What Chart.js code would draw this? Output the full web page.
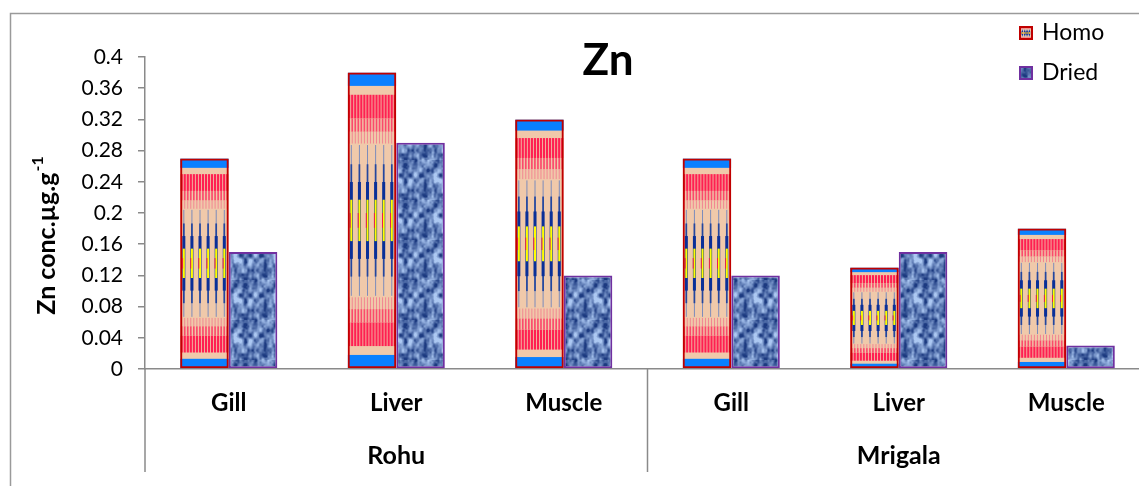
<!DOCTYPE html>
<html>
<head>
<meta charset="utf-8">
<script src="https://cdn.jsdelivr.net/npm/chart.js@4.4.1/dist/chart.umd.min.js"></script>
<style>
  html, body { margin: 0; padding: 0; background: #fff; overflow: hidden; }
  #wrap { position: absolute; left: 0; top: 0; width: 1160px; height: 486px; }
</style>
</head>
<body>
<div id="wrap"><canvas id="c" width="1160" height="486"></canvas></div>
<script>
// ---- data ----
const organs = ['Gill', 'Liver', 'Muscle', 'Gill', 'Liver', 'Muscle'];
const fishGroups = ['Rohu', 'Mrigala'];
const seriesNames = ['Homo', 'Dried'];
const homoValues = [0.27, 0.38, 0.32, 0.27, 0.13, 0.18];
const driedValues = [0.15, 0.29, 0.12, 0.12, 0.15, 0.03];
const yTickValues = [0, 0.04, 0.08, 0.12, 0.16, 0.2, 0.24, 0.28, 0.32, 0.36, 0.4];
const yTickLabels = ['0', '0.04', '0.08', '0.12', '0.16', '0.2', '0.24', '0.28', '0.32', '0.36', '0.4'];
const chartTitle = 'Zn';
const yTitleMain = 'Zn conc.µg.g';
const yTitleSup = '-1';

// ---- styling ----
const AXIS = '#8a8a8a';
const FONT = 'Lato';
const BLUE = '#0a80ff';
const BEIGE = '#f0c9aa';
const RED = '#ff1f52';

// Stretched "woven band" fill used for the Homo bars
function paintHomo(ctx, x, y, w, h) {
  ctx.save();
  ctx.beginPath();
  ctx.rect(x, y, w, h);
  ctx.clip();
  ctx.fillStyle = BEIGE;
  ctx.fillRect(x, y, w, h);
  const band = (f0, f1, fn) => {
    fn(y + f0 * h, (f1 - f0) * h);
    fn(y + (1 - f1) * h, (f1 - f0) * h);
  };
  band(0, 0.045, (yy, hh) => { ctx.fillStyle = BLUE; ctx.fillRect(x, yy, w, hh); });
  const n = 16;
  const sw = w / n;
  const levels = [
    [0.075, 0.155, 0.72, RED],
    [0.155, 0.20, 0.55, '#fb4a6c'],
    [0.20, 0.24, 0.3, '#f3808f']
  ];
  levels.forEach(([f0, f1, fill, col]) => {
    band(f0, f1, (yy, hh) => {
      ctx.fillStyle = col;
      for (let i = 0; i < n; i++) ctx.fillRect(x + i * sw + sw * (1 - fill) / 2, yy, sw * fill, hh);
    });
  });
  // spindle columns
  const cols = 6;
  for (let i = 0; i < cols; i++) {
    const cx = x + w * (i + 0.45) / cols;
    const seg = (f0, f1, wd, col) => {
      ctx.fillStyle = col;
      ctx.fillRect(cx - wd / 2, y + f0 * h, wd, (f1 - f0) * h);
    };
    seg(0.245, 0.755, Math.max(1, w * 0.02), '#7c8cbc');
    seg(0.31, 0.69, Math.max(1, w * 0.035), '#23469e');
    seg(0.37, 0.63, Math.max(1.5, w * 0.062), '#0a2f98');
    seg(0.43, 0.57, Math.max(1, w * 0.042), '#ffff00');
    ctx.fillStyle = '#e8204c';
    ctx.fillRect(cx - w * 0.035, y + 0.475 * h, Math.max(1, w * 0.018), 0.05 * h);
  }
  ctx.restore();
}

// Mottled blue texture used for the Dried bars
function makeDriedPattern() {
  const S = 40;
  const tile = document.createElement('canvas');
  tile.width = S; tile.height = S;
  const tctx = tile.getContext('2d');
  const img = tctx.createImageData(S, S);
  const hash = (i, j) => {
    const v = Math.sin(i * 127.1 + j * 311.7) * 43758.5453;
    return v - Math.floor(v);
  };
  const noise = (px, py, cells) => {
    const cs = S / cells;
    const gx = px / cs, gy = py / cs;
    const x0 = Math.floor(gx), y0 = Math.floor(gy);
    const tx = gx - x0, ty = gy - y0;
    const g = (a, b) => hash(((a % cells) + cells) % cells, ((b % cells) + cells) % cells + cells * 7);
    const sx = tx * tx * (3 - 2 * tx), sy = ty * ty * (3 - 2 * ty);
    const a = g(x0, y0) * (1 - sx) + g(x0 + 1, y0) * sx;
    const b = g(x0, y0 + 1) * (1 - sx) + g(x0 + 1, y0 + 1) * sx;
    return a * (1 - sy) + b * sy;
  };
  const dark = [28, 58, 128], light = [172, 200, 242];
  for (let py = 0; py < S; py++) {
    for (let px = 0; px < S; px++) {
      let v = 0.5 * noise(px, py, 8) + 0.35 * noise(px, py * 0.5, 16) + 0.15 * noise(px, py, 20);
      v = Math.min(1, Math.max(0, (v - 0.5) * 2.0 + 0.5));
      const k = (py * S + px) * 4;
      img.data[k] = dark[0] + (light[0] - dark[0]) * v;
      img.data[k + 1] = dark[1] + (light[1] - dark[1]) * v;
      img.data[k + 2] = dark[2] + (light[2] - dark[2]) * v;
      img.data[k + 3] = 255;
    }
  }
  tctx.putImageData(img, 0, 0);
  return tctx.createPattern(tile, 'repeat');
}

const driedPattern = makeDriedPattern();

const decor = {
  id: 'decor',
  beforeDraw(chart) {
    const ctx = chart.ctx;
    ctx.save();
    ctx.strokeStyle = '#9a9a9a';
    ctx.lineWidth = 1.5;
    ctx.strokeRect(10.5, 13.5, 1400, 600);
    ctx.restore();
  },
  beforeDatasetDraw(chart, args) {
    if (args.index !== 0) return;
    const ctx = chart.ctx;
    chart.getDatasetMeta(0).data.forEach(bar => {
      const p = bar.getProps(['x', 'y', 'base', 'width'], true);
      paintHomo(ctx, p.x - p.width / 2, Math.min(p.y, p.base), p.width, Math.abs(p.base - p.y));
    });
  },
  afterDraw(chart) {
    const ctx = chart.ctx;
    const xs = chart.scales.x, xg = chart.scales.xg;
    ctx.save();
    // group separators below the category axis
    ctx.strokeStyle = AXIS;
    ctx.lineWidth = 1.5;
    const bottom = xg.bottom - 14;
    const splits = [chart.chartArea.left, (xs.getPixelForValue(2) + xs.getPixelForValue(3)) / 2];
    splits.forEach(sx => {
      ctx.beginPath();
      ctx.moveTo(sx, xs.top);
      ctx.lineTo(sx, bottom);
      ctx.stroke();
    });
    // y-axis title with superscript
    ctx.fillStyle = '#000';
    ctx.translate(46, 236);
    ctx.rotate(-Math.PI / 2);
    const mainFont = 'bold 25px ' + FONT, supFont = 'bold 16px ' + FONT;
    ctx.font = mainFont;
    const wm = ctx.measureText(yTitleMain).width;
    ctx.font = supFont;
    const ws = ctx.measureText(yTitleSup).width;
    const start = -(wm + ws) / 2;
    ctx.textBaseline = 'alphabetic';
    ctx.textAlign = 'left';
    ctx.font = mainFont;
    ctx.fillText(yTitleMain, start, 9);
    ctx.font = supFont;
    ctx.fillText(yTitleSup, start + wm + 1, -3);
    ctx.setTransform(1, 0, 0, 1, 0, 0);
    // chart title
    ctx.font = 'bold 44px ' + FONT;
    ctx.textAlign = 'center';
    ctx.fillText(chartTitle, 608, 75);
    // legend
    const items = chart.data.datasets;
    const lx = 1019, ly = [26, 66];
    items.forEach((ds, i) => {
      const y0 = ly[i];
      if (i === 0) {
        paintHomo(ctx, lx, y0, 14, 14);
      } else {
        ctx.fillStyle = driedPattern;
        ctx.fillRect(lx, y0, 14, 14);
      }
      ctx.strokeStyle = ds.borderColor;
      ctx.lineWidth = 2;
      ctx.strokeRect(lx + 1, y0 + 1, 12, 12);
      ctx.fillStyle = '#000';
      ctx.font = '23px ' + FONT;
      ctx.textAlign = 'left';
      ctx.textBaseline = 'middle';
      ctx.fillText(ds.label, 1042, y0 + 7);
    });
    ctx.restore();
  }
};

function build() {
  new Chart(document.getElementById('c'), {
    type: 'bar',
    data: {
      labels: organs,
      datasets: [
        {
          label: seriesNames[0],
          data: homoValues,
          backgroundColor: 'rgba(0,0,0,0)',
          borderColor: '#c00000',
          borderWidth: 2,
          borderSkipped: false,
          barPercentage: 1,
          categoryPercentage: 0.58
        },
        {
          label: seriesNames[1],
          data: driedValues,
          backgroundColor: driedPattern,
          borderColor: '#7030a0',
          borderWidth: 2,
          borderSkipped: false,
          barPercentage: 1,
          categoryPercentage: 0.58
        }
      ]
    },
    options: {
      responsive: false,
      animation: false,
      layout: { padding: { left: 0, right: 10, top: 57, bottom: 0 } },
      plugins: {
        legend: { display: false },
        title: { display: false },
        tooltip: { enabled: false }
      },
      scales: {
        x: {
          type: 'category',
          position: 'bottom',
          weight: 0,
          offset: true,
          grid: { display: false, drawTicks: false },
          border: { display: true, color: AXIS, width: 1.5 },
          ticks: {
            color: '#000',
            font: { family: FONT, size: 24, weight: 'bold' },
            padding: 20,
            maxRotation: 0,
            autoSkip: false
          },
          afterFit(s) { s.height = 60; }
        },
        xg: {
          type: 'category',
          labels: fishGroups,
          position: 'bottom',
          weight: 1,
          offset: true,
          grid: { display: false, drawTicks: false },
          border: { display: false },
          ticks: {
            color: '#000',
            font: { family: FONT, size: 25, weight: 'bold' },
            padding: 12,
            maxRotation: 0,
            autoSkip: false
          },
          afterFit(s) { s.height = 57; }
        },
        y: {
          min: 0,
          max: 0.4,
          afterBuildTicks(s) { s.ticks = yTickValues.map(v => ({ value: v })); },
          grid: { drawOnChartArea: false, drawTicks: true, tickLength: 7, color: AXIS, lineWidth: 1.5 },
          border: { display: true, color: AXIS, width: 1.5 },
          ticks: {
            padding: 15,
            color: '#000',
            font: { family: FONT, size: 21 },
            callback: (v, i) => yTickLabels[i]
          },
          afterFit(s) { s.width = 145; }
        }
      }
    },
    plugins: [decor]
  });
}

Promise.all([
  document.fonts.load('21px Lato'),
  document.fonts.load('bold 24px Lato')
]).then(build, build);
</script>
</body>
</html>
